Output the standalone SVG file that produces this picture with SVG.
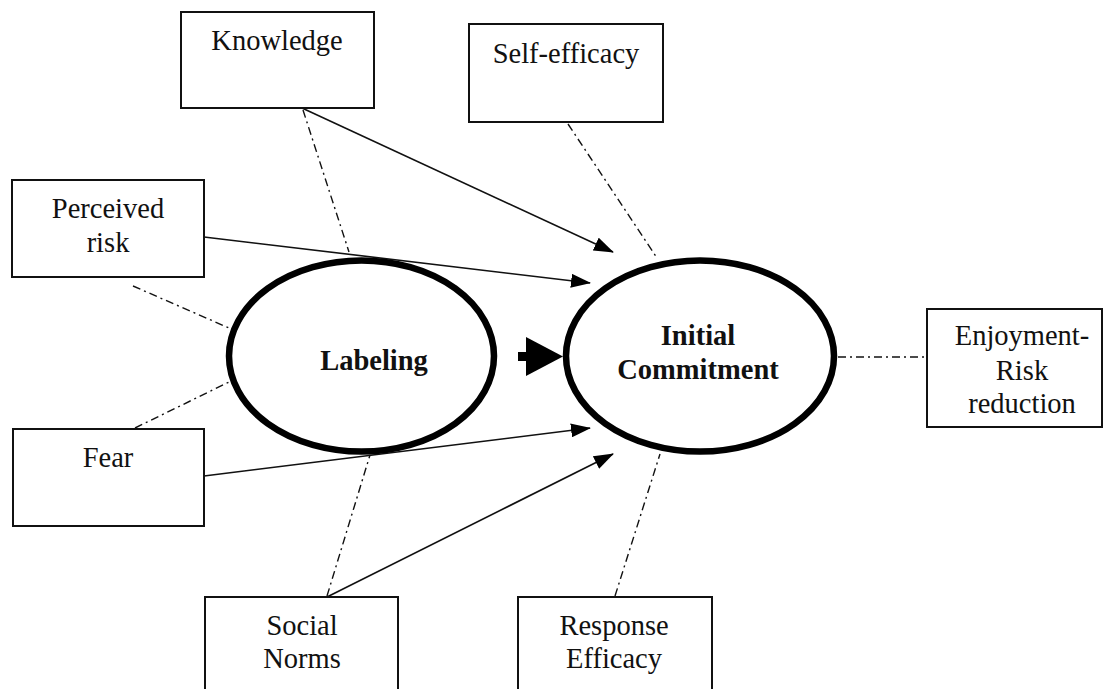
<svg xmlns="http://www.w3.org/2000/svg" width="1108" height="689" viewBox="0 0 1108 689">
<style>
.box{fill:#fff;stroke:#111;stroke-width:2}
.t{font-family:"Liberation Serif","Times New Roman",serif;font-size:28.5px;fill:#111;text-anchor:middle}
.b{font-weight:bold}
.ell{fill:#fff;stroke:#000;stroke-width:6.5}
.dd{fill:none;stroke:#111;stroke-width:1.4;stroke-dasharray:8 4 2 4}
.ar{fill:none;stroke:#111;stroke-width:1.6}
</style>
<defs>
<marker id="ah" markerWidth="20" markerHeight="14" refX="19" refY="7" orient="auto" markerUnits="userSpaceOnUse">
<path d="M0,0 L20,7 L0,14 z" fill="#000"/>
</marker>
</defs>
<rect width="1108" height="689" fill="#fff"/>
<g id="connectors">
<line class="dd" x1="303" y1="110" x2="349" y2="252"/>
<line class="dd" x1="133" y1="286" x2="229" y2="328"/>
<line class="dd" x1="135" y1="428" x2="229" y2="382"/>
<line class="dd" x1="327" y1="596" x2="370" y2="455"/>
<line class="dd" x1="568" y1="124" x2="657" y2="258"/>
<line class="dd" x1="615" y1="596" x2="660" y2="454"/>
<line class="dd" x1="838" y1="357" x2="927" y2="357"/>
<line class="ar" x1="302" y1="108" x2="613" y2="252" marker-end="url(#ah)"/>
<line class="ar" x1="204" y1="237" x2="590" y2="283" marker-end="url(#ah)"/>
<line class="ar" x1="204" y1="476" x2="590" y2="428" marker-end="url(#ah)"/>
<line class="ar" x1="327" y1="597" x2="613" y2="454" marker-end="url(#ah)"/>
<rect x="518" y="352" width="10" height="9" fill="#000"/>
<polygon points="526,337 563,356.5 526,376" fill="#000"/>
</g>
<g id="knowledge"><rect class="box" x="181" y="12" width="193" height="96"/><text class="t" x="277" y="50">Knowledge</text></g>
<g id="self-efficacy"><rect class="box" x="469" y="24" width="194" height="98"/><text class="t" x="566" y="63">Self-efficacy</text></g>
<g id="perceived-risk"><rect class="box" x="12" y="180" width="192" height="97"/><text class="t" x="108" y="218">Perceived</text><text class="t" x="108" y="252">risk</text></g>
<g id="fear"><rect class="box" x="13" y="429" width="191" height="97"/><text class="t" x="108" y="467">Fear</text></g>
<g id="social-norms"><rect class="box" x="205" y="597" width="193" height="100"/><text class="t" x="302" y="635">Social</text><text class="t" x="302" y="668">Norms</text></g>
<g id="response-efficacy"><rect class="box" x="518" y="597" width="194" height="100"/><text class="t" x="614" y="635">Response</text><text class="t" x="614" y="668">Efficacy</text></g>
<g id="enjoyment"><rect class="box" x="927" y="309" width="175" height="118"/><text class="t" x="1022" y="345">Enjoyment-</text><text class="t" x="1022" y="380">Risk</text><text class="t" x="1022" y="413">reduction</text></g>
<g id="labeling"><ellipse class="ell" cx="361.5" cy="356" rx="132.5" ry="95.5"/><text class="t b" x="374" y="370">Labeling</text></g>
<g id="initial-commitment"><ellipse class="ell" cx="700" cy="356" rx="134" ry="95.5"/><text class="t b" x="698" y="345">Initial</text><text class="t b" x="698" y="379">Commitment</text></g>
</svg>
